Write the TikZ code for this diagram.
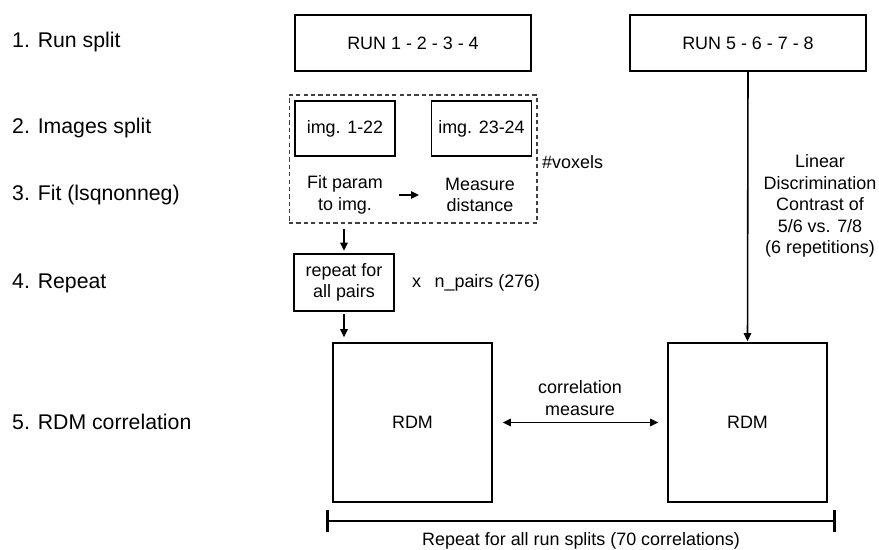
\documentclass[tikz,border=0pt]{standalone}
\usepackage{fontspec}
\setmainfont{Liberation Sans}
\usepackage{tikz}
\usetikzlibrary{positioning}
\usetikzlibrary{shapes,arrows.meta}
\tikzstyle{novertex} = [draw=none, fill=none, text centered, align=center, font=\fontsize{10.2}{12.2}\selectfont]
\tikzstyle{steplabel} = [novertex, anchor=west, font=\fontsize{12.1}{14}\selectfont]
\tikzstyle{note} = [novertex, anchor=west]
\tikzstyle{terminal} = [rectangle, draw, line width=1pt, text centered, align=center, font=\fontsize{10.2}{12.2}\selectfont]
\tikzstyle{runbox} = [terminal, minimum width=4.72cm, minimum height=1.12cm]
\tikzstyle{imgbox} = [terminal, minimum width=2cm, minimum height=1.1cm]
\tikzstyle{rdmbox} = [terminal, minimum width=3.18cm, minimum height=3.18cm]
\tikzstyle{group} = [rectangle, draw=black!75, line width=0.6pt, dash pattern=on 2.4pt off 1.8pt, minimum width=4.96cm, minimum height=2.56cm]
\tikzstyle{high} = [draw, line width=0.9pt, -{Triangle[length=4.5pt,width=4.2pt]}]
\tikzstyle{both} = [draw, line width=0.9pt, {Triangle[length=4.5pt,width=4.2pt]}-{Triangle[length=4.5pt,width=4.2pt]}]
\tikzstyle{span} = [draw, line width=1.7pt, {Bar[width=12pt]}-{Bar[width=12pt]}]

\begin{document}
\begin{tikzpicture}[x=0.02cm, y=-0.02cm]
	\useasboundingbox (0,0) rectangle (879,550);

	% step labels
	\node [steplabel] (L1) at (6,42)  {1. Run split};
	\node [steplabel] (L2) at (6,128) {2. Images split};
	\node [steplabel] (L3) at (6,195) {3. Fit (lsqnonneg)};
	\node [steplabel] (L4) at (6,283) {4. Repeat};
	\node [steplabel] (L5) at (6,422) {5. RDM correlation};

	% place nodes
	\node [runbox] (R1) at (413,43) {RUN 1 - 2 - 3 - 4};
	\node [runbox] (R2) at (748,43) {RUN 5 - 6 - 7 - 8};
	\node [group]  (D)  at (413,159) {};
	\node [imgbox] (I1) at (345,128.5) {img. 1-22};
	\node [imgbox] (I2) at (481.5,128.5) {img. 23-24};
	\node [novertex] (F1) at (345,195) {Fit param\\to img.};
	\node [novertex] (F2) at (480,195) {Measure\\distance};
	\node [note] (V) at (536,162) {\#voxels};
	\node [terminal, minimum width=2cm, minimum height=1.14cm] (Rp) at (344,282.5) {repeat for\\all pairs};
	\node [note] (NP) at (406,283) {x\hspace{0.75em}n\_pairs (276)};
	\node [rdmbox] (M1) at (412.5,422.5) {RDM};
	\node [rdmbox] (M2) at (747.5,422.5) {RDM};
	\node [novertex] (LD) at (820,206) {Linear\\Discrimination\\Contrast of\\5/6 vs. 7/8\\(6 repetitions)};
	\node [novertex] (CM) at (580,398) {correlation\\measure};
	\coordinate (B1) at (326,521);
	\coordinate (B2) at (836,521);
	\node [novertex] (RS) at (581,541) {Repeat for all run splits (70 correlations)};

	% draw edges
	\path [high, shorten <=0.2cm, shorten >=0.4cm] (F1) -- (F2);
	\path [high, shorten <=0.1cm, shorten >=0.05cm] (D.south -| Rp.north) -- (Rp.north);
	\path [high, shorten <=0.05cm, shorten >=0.1cm] (Rp.south) -- (Rp.south |- M1.north);
	\path [high, shorten >=0.02cm] (R2.south) -- (M2.north);
	\path [both, shorten <=0.2cm, shorten >=0.18cm] (M1.east) -- (M2.west);
	\path [span] (B1) -- (B2);
\end{tikzpicture}
\end{document}
